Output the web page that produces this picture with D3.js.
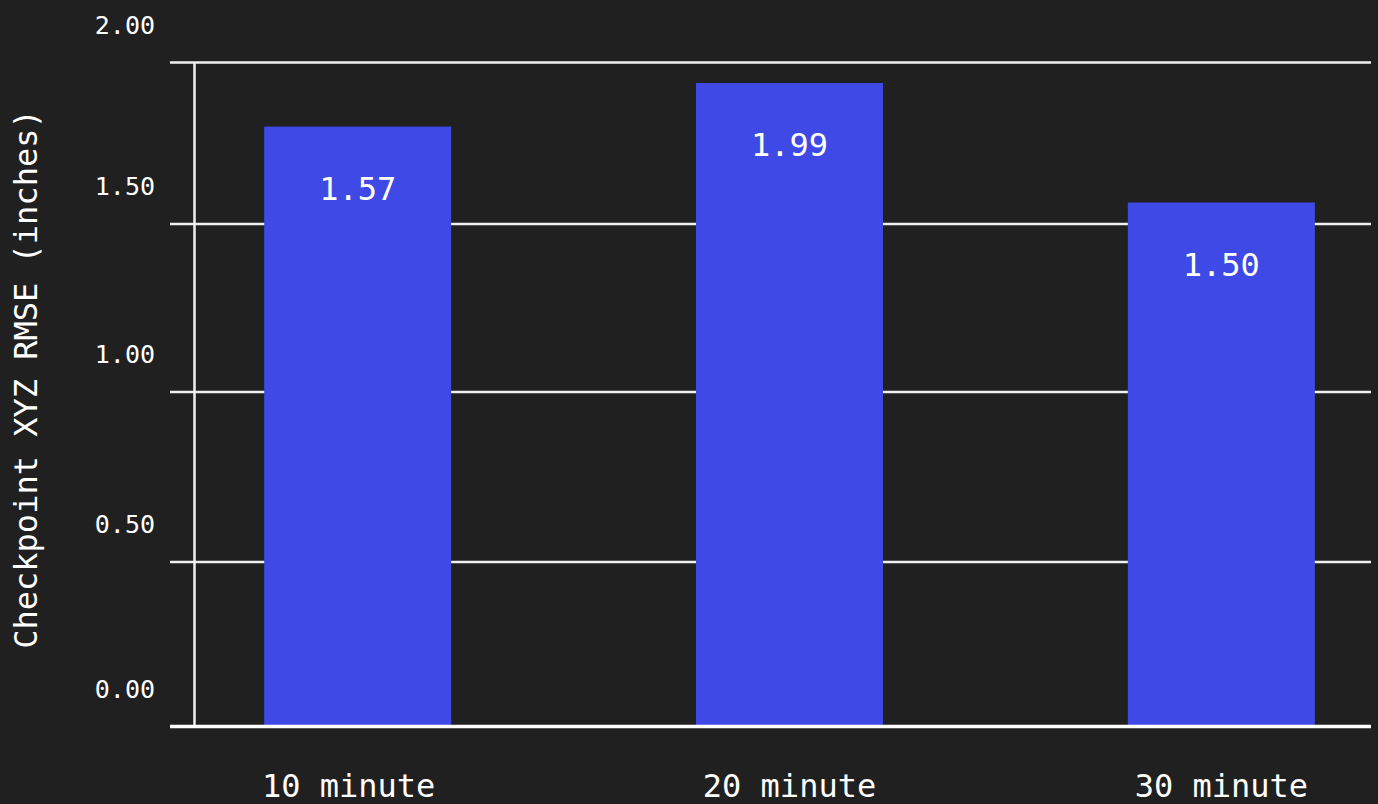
<!DOCTYPE html>
<html>
<head>
<meta charset="utf-8">
<script src="https://cdn.jsdelivr.net/npm/d3@7"></script>
<style>
  html, body { margin: 0; padding: 0; background: #202020; }
  svg { display: block; }
  text { font-family: "DejaVu Sans Mono", "Liberation Mono", monospace; fill: #ffffff; }
</style>
</head>
<body>
<script>
// Data
const categories = ["10 minute", "20 minute", "30 minute"];
const barHeights = [1.80, 1.935, 1.565];   // plotted heights
const barLabels = ["1.57", "1.99", "1.50"]; // printed values
const tickValues = [0, 0.5, 1, 1.5, 2];
const tickLabels = ["0.00", "0.50", "1.00", "1.50", "2.00"];

const W = 1378, H = 804;
const gridLeft = 170, gridRight = 1371, axisX = 194.5;

const svg = d3.select("body").append("svg")
  .attr("width", W)
  .attr("height", H);

svg.append("rect").attr("width", W).attr("height", H).attr("fill", "#202020");

// y is piecewise to follow the gridlines of the original
const y = d3.scaleLinear()
  .domain(tickValues)
  .range([726, 561.5, 391.5, 223.5, 62]);

const x = d3.scaleBand()
  .domain(categories)
  .range([221, 1358])
  .paddingInner(0.567)
  .paddingOuter(0.1);

// Gridlines + tick labels
const yAxis = d3.axisLeft(y)
  .tickValues(tickValues)
  .tickFormat((d, i) => tickLabels[i])
  .tickSize(-(gridRight - gridLeft))
  .tickPadding(15);

const gy = svg.append("g")
  .attr("transform", `translate(${gridLeft},0)`)
  .call(yAxis);
gy.select(".domain").remove();
gy.selectAll(".tick line")
  .attr("stroke", "#f0f0f0")
  .attr("stroke-width", 2.5);
gy.selectAll(".tick text")
  .attr("dy", null)
  .attr("y", -29)
  .attr("font-size", 25)
  .attr("fill", "#ffffff");

// vertical axis line
svg.append("line")
  .attr("x1", axisX).attr("x2", axisX)
  .attr("y1", y(2)).attr("y2", y(0))
  .attr("stroke", "#f0f0f0")
  .attr("stroke-width", 2.5);

// Bars
svg.selectAll(".bar")
  .data(categories)
  .join("rect")
  .attr("class", "bar")
  .attr("x", d => x(d))
  .attr("width", x.bandwidth())
  .attr("y", (d, i) => y(barHeights[i]))
  .attr("height", (d, i) => y(0) - y(barHeights[i]))
  .attr("fill", "#3f4ae6");

// Value labels inside bars
svg.selectAll(".val")
  .data(categories)
  .join("text")
  .attr("class", "val")
  .attr("x", d => x(d) + x.bandwidth() / 2)
  .attr("y", (d, i) => y(barHeights[i]) + 73)
  .attr("text-anchor", "middle")
  .attr("font-size", 32)
  .text((d, i) => barLabels[i]);

// Baseline, drawn over the bars
svg.append("line")
  .attr("x1", gridLeft).attr("x2", gridRight)
  .attr("y1", y(0) + 0.5).attr("y2", y(0) + 0.5)
  .attr("stroke", "#ffffff")
  .attr("stroke-width", 3.5);

// Category labels (first one sits a bit left of its bar in the original)
svg.selectAll(".cat")
  .data(categories)
  .join("text")
  .attr("class", "cat")
  .attr("x", d => x(d) + x.bandwidth() / 2)
  .attr("dx", (d, i) => i === 0 ? -9 : 0)
  .attr("y", 797)
  .attr("text-anchor", "middle")
  .attr("font-size", 32)
  .text(d => d);

// Y axis title
svg.append("text")
  .attr("transform", "translate(37,379) rotate(-90)")
  .attr("text-anchor", "middle")
  .attr("font-size", 32)
  .text("Checkpoint XYZ RMSE (inches)");
</script>
</body>
</html>
